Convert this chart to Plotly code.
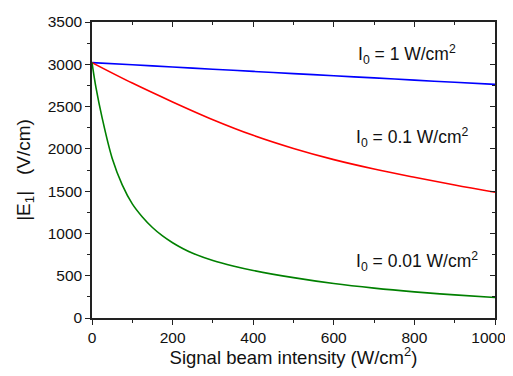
import plotly.graph_objects as go

intensity = [0, 100, 200, 300, 400, 500, 600, 700, 800, 900, 1000]
e_i0_1 = [3020, 2994, 2968, 2942, 2916, 2890, 2864, 2839, 2813, 2787, 2762]
e_i0_01 = [3020, 2778, 2555, 2345, 2160, 2005, 1873, 1762, 1664, 1572, 1487]

intensity_g = [0, 10, 25, 50, 75, 100, 125, 150, 175, 200, 225, 250, 300, 350, 400,
               500, 600, 700, 800, 900, 1000]
e_i0_001 = [3020, 2720, 2370, 1890, 1575, 1350, 1195, 1070, 970, 890, 822, 765, 680, 615, 562,
            477, 407, 353, 309, 273, 243]

x_tick_vals = [0, 200, 400, 600, 800, 1000]
x_tick_text = ["0", "200", "400", "600", "800", "1000"]

labels = ["I<sub>0</sub> = 1 W/cm<sup>2</sup>",
          "I<sub>0</sub> = 0.1 W/cm<sup>2</sup>",
          "I<sub>0</sub> = 0.01 W/cm<sup>2</sup>"]
label_x = [782, 795, 807]
label_y = [3119, 2140, 665]

FONT = "Liberation Sans, Arial, sans-serif"

# the last label would run past the visible page edge; pad it so it stays in view
shown_tick_text = x_tick_text[:-1] + [x_tick_text[-1] + "\u00a0" * 3]

fig = go.Figure()
fig.add_trace(go.Scatter(x=intensity, y=e_i0_1, mode="lines", line=dict(color="#0000FF", width=1.6, shape="spline")))
fig.add_trace(go.Scatter(x=intensity, y=e_i0_01, mode="lines", line=dict(color="#FF0000", width=1.6, shape="spline")))
fig.add_trace(go.Scatter(x=intensity_g, y=e_i0_001, mode="lines", line=dict(color="#008000", width=1.6, shape="spline")))
# helper trace for mirrored (inside-tick) axes
fig.add_trace(go.Scatter(x=[0, 1000], y=[0, 3500], xaxis="x2", yaxis="y2", mode="lines",
                         line=dict(color="rgba(0,0,0,0)"), hoverinfo="skip"))

for t, xx, yy in zip(labels, label_x, label_y):
    fig.add_annotation(x=xx, y=yy, text=t, showarrow=False,
                       font=dict(family=FONT, size=17.5, color="#111"))

axis_common = dict(showgrid=False, zeroline=False, showline=True, linecolor="#222", linewidth=1.5,
                   tickcolor="#222", tickwidth=1.2, automargin=False,
                   tickfont=dict(family=FONT, size=15.5, color="#111"))

# page body has an 8px margin, so the figure is offset by 8px; compensate in size/margins
fig.update_layout(
    width=505, height=360,
    margin=dict(l=84, r=18, t=14, b=50),
    paper_bgcolor="white", plot_bgcolor="white",
    showlegend=False,
    xaxis=dict(range=[0, 1000], tickmode="array", tickvals=x_tick_vals, ticktext=shown_tick_text,
               ticks="outside", ticklen=5, ticklabeloverflow="allow",
               minor=dict(ticks="outside", ticklen=3, dtick=100, tickcolor="#222"),
               title=dict(text="Signal beam intensity (W/cm<sup>2</sup>)", font=dict(family=FONT, size=18.5, color="#111"), standoff=8),
               **axis_common),
    yaxis=dict(range=[0, 3500], dtick=500, ticks="outside", ticklen=5,
               minor=dict(ticks="outside", ticklen=3, dtick=250, tickcolor="#222"),
               title=dict(text="|E<sub>1</sub>|&nbsp;&nbsp;&nbsp;(V/cm)", font=dict(family=FONT, size=19, color="#111"), standoff=12),
               **axis_common),
    xaxis2=dict(range=[0, 1000], overlaying="x", side="top", anchor="y", dtick=200, ticks="inside", ticklen=5,
                minor=dict(ticks="inside", ticklen=3, dtick=100, tickcolor="#222"),
                showticklabels=False, **axis_common),
    yaxis2=dict(range=[0, 3500], overlaying="y", side="right", anchor="x", dtick=500, ticks="inside", ticklen=5,
                minor=dict(ticks="inside", ticklen=3, dtick=250, tickcolor="#222"),
                showticklabels=False, **axis_common),
)

fig.write_html("out.html")
